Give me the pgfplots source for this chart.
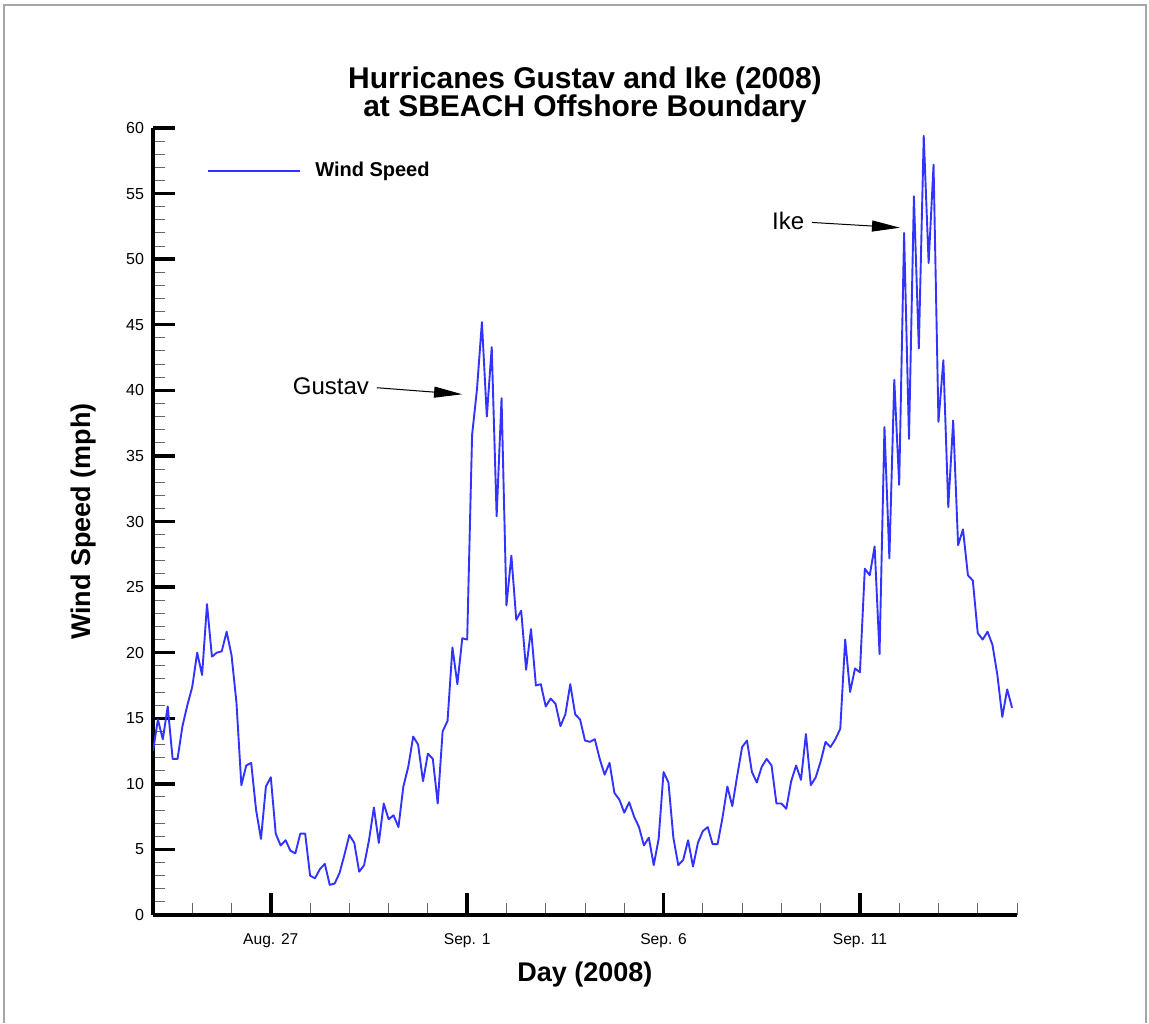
\documentclass[border=0pt]{standalone}
\usepackage{pgfplots}
\pgfplotsset{compat=1.18}
\usepackage{fontspec}
\setmainfont{Liberation Sans}
\usetikzlibrary{arrows.meta}
\definecolor{lineblue}{RGB}{51,51,255}
\begin{document}
\begin{tikzpicture}
% bounding box in px: (0,0)-(1149,1023); axis box px (153,128)-(1017,915); 1px = 0.5pt
\useasboundingbox (-76.5pt,-54pt) rectangle (498pt,457.5pt);
\draw[gray!70, line width=0.6pt] (-74.5pt,-54pt) -- (-74.5pt,455pt) -- (496.5pt,455pt) -- (496.5pt,-54pt);
\begin{axis}[
  scale only axis,
  width=432pt, height=393.5pt,
  xmin=0, xmax=22, ymin=0, ymax=60,
  axis x line*=bottom, axis y line*=left,
  axis line style={line width=1.7pt, black},
  tick align=inside,
  xtick={3,8,13,18},
  xticklabels={Aug. 27, Sep. 1, Sep. 6, Sep. 11},
  minor xtick={1,2,4,5,6,7,9,10,11,12,14,15,16,17,19,20,21,22},
  ytick={0,5,...,60},
  minor y tick num=4,
  major tick length=11pt,
  minor tick length=6pt,
  major tick style={line width=1.7pt, black},
  minor tick style={line width=0.5pt, black!60},
  /pgf/number format/assume math mode=true,
  xticklabel style={font=\fontsize{7.8}{9}\selectfont, yshift=-6pt},
  yticklabel style={font=\fontsize{8}{9}\selectfont, xshift=-1pt},
  xlabel={Day (2008)},
  ylabel={Wind Speed (mph)},
  xlabel style={font=\bfseries\fontsize{13.5}{15}\selectfont, at={(axis description cs:0.5,-0.0762)}, anchor=center},
  ylabel style={font=\bfseries\fontsize{13.5}{15}\selectfont, at={(axis description cs:-0.0805,0.5)}, anchor=center},
  legend style={at={(axis description cs:0.0625,0.9454)}, anchor=west, draw=none, fill=none, inner sep=0pt, font=\bfseries\fontsize{10}{12}\selectfont},
  legend image code/.code={\draw[#1] (0pt,0pt) -- (46pt,0pt);},
  legend cell align=left,
  legend style={/tikz/every odd column/.append style={column sep=5pt}},
  clip=true,
]
\addplot[lineblue, line width=0.95pt, line join=round] coordinates {
(0,12.5)(0.125,14.9)(0.25,13.4)(0.375,15.9)(0.5,11.9)(0.625,11.9)(0.75,14.4)(0.875,16.0)
(1,17.4)(1.125,20.0)(1.25,18.3)(1.375,23.7)(1.5,19.7)(1.625,20.0)(1.75,20.1)(1.875,21.6)
(2,19.8)(2.125,16.2)(2.25,9.9)(2.375,11.4)(2.5,11.6)(2.625,8.0)(2.75,5.8)(2.875,9.8)
(3,10.5)(3.125,6.2)(3.25,5.3)(3.375,5.7)(3.5,4.9)(3.625,4.7)(3.75,6.2)(3.875,6.2)
(4,3.0)(4.125,2.8)(4.25,3.5)(4.375,3.9)(4.5,2.3)(4.625,2.4)(4.75,3.2)(4.875,4.6)
(5,6.1)(5.125,5.5)(5.25,3.3)(5.375,3.8)(5.5,5.7)(5.625,8.2)(5.75,5.5)(5.875,8.5)
(6,7.3)(6.125,7.6)(6.25,6.7)(6.375,9.8)(6.5,11.3)(6.625,13.6)(6.75,13.0)(6.875,10.2)
(7,12.3)(7.125,11.9)(7.25,8.5)(7.375,14.0)(7.5,14.8)(7.625,20.4)(7.75,17.6)(7.875,21.1)
(8,21.0)(8.125,36.6)(8.25,40.1)(8.375,45.2)(8.5,38.0)(8.625,43.3)(8.75,30.4)(8.875,39.4)
(9,23.6)(9.125,27.4)(9.25,22.5)(9.375,23.2)(9.5,18.7)(9.625,21.8)(9.75,17.5)(9.875,17.6)
(10,15.9)(10.125,16.5)(10.25,16.1)(10.375,14.4)(10.5,15.3)(10.625,17.6)(10.75,15.3)(10.875,14.9)
(11,13.3)(11.125,13.2)(11.25,13.4)(11.375,11.9)(11.5,10.7)(11.625,11.6)(11.75,9.3)(11.875,8.8)
(12,7.8)(12.125,8.6)(12.25,7.5)(12.375,6.7)(12.5,5.3)(12.625,5.9)(12.75,3.8)(12.875,5.8)
(13,10.9)(13.125,10.1)(13.25,5.9)(13.375,3.8)(13.5,4.2)(13.625,5.7)(13.75,3.7)(13.875,5.5)
(14,6.4)(14.125,6.7)(14.25,5.4)(14.375,5.4)(14.5,7.4)(14.625,9.8)(14.75,8.3)(14.875,10.6)
(15,12.8)(15.125,13.3)(15.25,10.9)(15.375,10.1)(15.5,11.3)(15.625,11.9)(15.75,11.4)(15.875,8.5)
(16,8.5)(16.125,8.1)(16.25,10.2)(16.375,11.4)(16.5,10.3)(16.625,13.8)(16.75,9.9)(16.875,10.5)
(17,11.7)(17.125,13.2)(17.25,12.8)(17.375,13.4)(17.5,14.2)(17.625,21.0)(17.75,17.0)(17.875,18.8)
(18,18.5)(18.125,26.4)(18.25,25.9)(18.375,28.1)(18.5,19.9)(18.625,37.2)(18.75,27.2)(18.875,40.8)
(19,32.8)(19.125,52.0)(19.25,36.3)(19.375,54.8)(19.5,43.2)(19.625,59.4)(19.75,49.7)(19.875,57.2)
(20,37.6)(20.125,42.3)(20.25,31.1)(20.375,37.7)(20.5,28.2)(20.625,29.4)(20.75,25.9)(20.875,25.5)
(21,21.5)(21.125,21.0)(21.25,21.6)(21.375,20.6)(21.5,18.3)(21.625,15.1)(21.75,17.2)(21.875,15.8)
};
\addlegendentry{Wind Speed}
\draw[line width=0.5pt, -{Triangle[length=14pt,width=5.5pt]}] (axis cs:5.70,40.2) -- (axis cs:7.87,39.7);
\node[anchor=east, font=\fontsize{12}{14}\selectfont, inner sep=1pt] at (axis cs:5.56,40.3) {Gustav};
\draw[line width=0.5pt, -{Triangle[length=14pt,width=5.5pt]}] (axis cs:16.78,52.8) -- (axis cs:19.02,52.4);
\node[anchor=east, font=\fontsize{12}{14}\selectfont, inner sep=1pt] at (axis cs:16.64,52.9) {Ike};
\end{axis}
\node[align=center, font=\bfseries\fontsize{15}{14}\selectfont] at (216pt,410pt) {Hurricanes Gustav and Ike (2008)\\at SBEACH Offshore Boundary};
\end{tikzpicture}
\end{document}
